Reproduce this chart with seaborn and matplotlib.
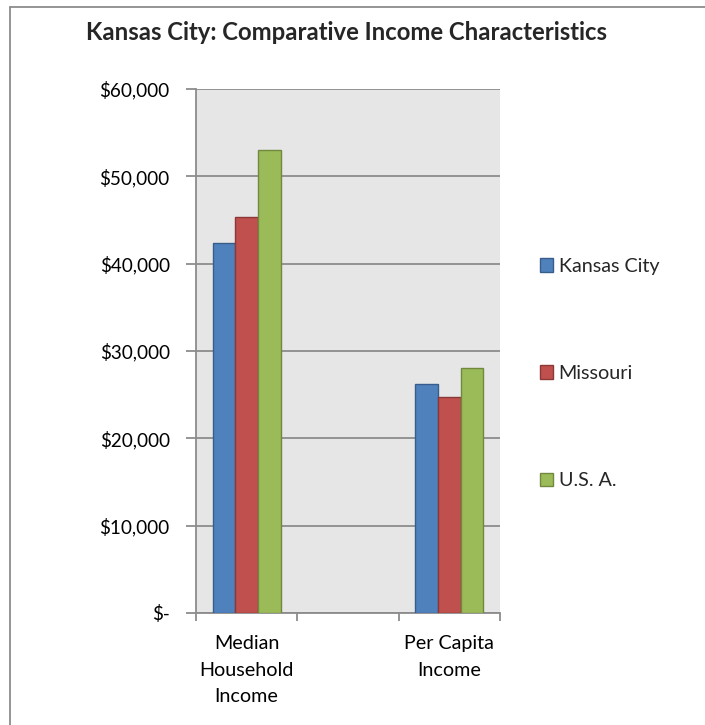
import matplotlib
matplotlib.use("Agg")
import matplotlib.pyplot as plt
from matplotlib.lines import Line2D
from matplotlib.patches import Patch
from matplotlib.ticker import FuncFormatter, FixedLocator
import seaborn as sns
import pandas as pd

categories = ["Median\nHousehold\nIncome", "Per Capita\nIncome"]
axis_slots = ["Median\nHousehold\nIncome", " ", "Per Capita\nIncome"]
series = ["Kansas City", "Missouri", "U.S. A."]
kansas_city = [42400, 26200]
missouri = [45400, 24700]
usa = [53050, 28050]

fill_colors = ["#4F81BD", "#C0504D", "#9BBB59"]
edge_colors = ["#385D8A", "#8C3836", "#71893F"]

rows = []
for name, vals in zip(series, [kansas_city, missouri, usa]):
    for cat, v in zip(categories, vals):
        rows.append({"category": cat, "series": name, "value": v})
df = pd.DataFrame(rows)

sns.set_theme(style="white")
plt.rcParams["font.family"] = ["Lato", "DejaVu Sans"]

fig = plt.figure(figsize=(7.05, 7.25), dpi=100)
ax = fig.add_axes([196 / 705, 1 - 613 / 725, (500 - 196) / 705, (613 - 89) / 725])

sns.barplot(data=df, x="category", y="value", hue="series", order=axis_slots,
            hue_order=series, palette=fill_colors, saturation=1, width=0.67,
            ax=ax, legend=False, zorder=3)

# darker outline for each series
for i, container in enumerate(ax.containers):
    for bar in container:
        bar.set_edgecolor(edge_colors[i])
        bar.set_linewidth(1.0)

ax.set_facecolor("#E6E6E6")
ax.set_xlim(-0.5, 2.5)
ax.set_ylim(0, 60000)
ax.set_yticks(range(0, 60001, 10000))
ax.yaxis.set_major_formatter(FuncFormatter(lambda v, p: "$-" if v == 0 else f"${v:,.0f}"))
ax.grid(axis="y", color="#8C8C8C", linewidth=1.3, zorder=0)
ax.set_axisbelow(True)

for side in ["top", "right"]:
    ax.spines[side].set_visible(False)
for side in ["left", "bottom"]:
    ax.spines[side].set_color("#8C8C8C")
    ax.spines[side].set_linewidth(1.3)

ax.tick_params(axis="y", which="major", left=True, length=7, width=1.3,
               color="#8C8C8C", labelsize=13.6, labelcolor="black", pad=12)
ax.tick_params(axis="x", which="major", bottom=False, length=0,
               labelsize=14.2, labelcolor="black", pad=16)
ax.xaxis.set_minor_locator(FixedLocator([-0.5, 0.5, 1.5, 2.5]))
ax.tick_params(axis="x", which="minor", bottom=True, length=6, width=1.3,
               color="#8C8C8C")
for lbl in ax.get_xticklabels():
    lbl.set_linespacing(1.68)
ax.set_xlabel("")
ax.set_ylabel("")

fig.text(346 / 705, 1 - 33 / 725, "Kansas City: Comparative Income Characteristics",
         ha="center", va="center", fontsize=17.2, fontweight="bold")

handles = [Patch(facecolor=f, edgecolor=e, linewidth=1.0)
           for f, e in zip(fill_colors, edge_colors)]
fig.legend(handles, series, loc="upper left", bbox_to_anchor=(530 / 705, 1 - 248 / 725),
           frameon=False, fontsize=14.2, handlelength=0.65, handleheight=0.65,
           handletextpad=0.3, labelspacing=4.57, borderpad=0)

# outer chart frame (left and top edges)
fig.add_artist(Line2D([10 / 705, 10 / 705], [0, 1 - 7 / 725], color="#8C8C8C",
                      linewidth=1.3, transform=fig.transFigure))
fig.add_artist(Line2D([10 / 705, 1], [1 - 7 / 725, 1 - 7 / 725], color="#8C8C8C",
                      linewidth=1.3, transform=fig.transFigure))

fig.savefig("out.png", dpi=100, facecolor="white")
